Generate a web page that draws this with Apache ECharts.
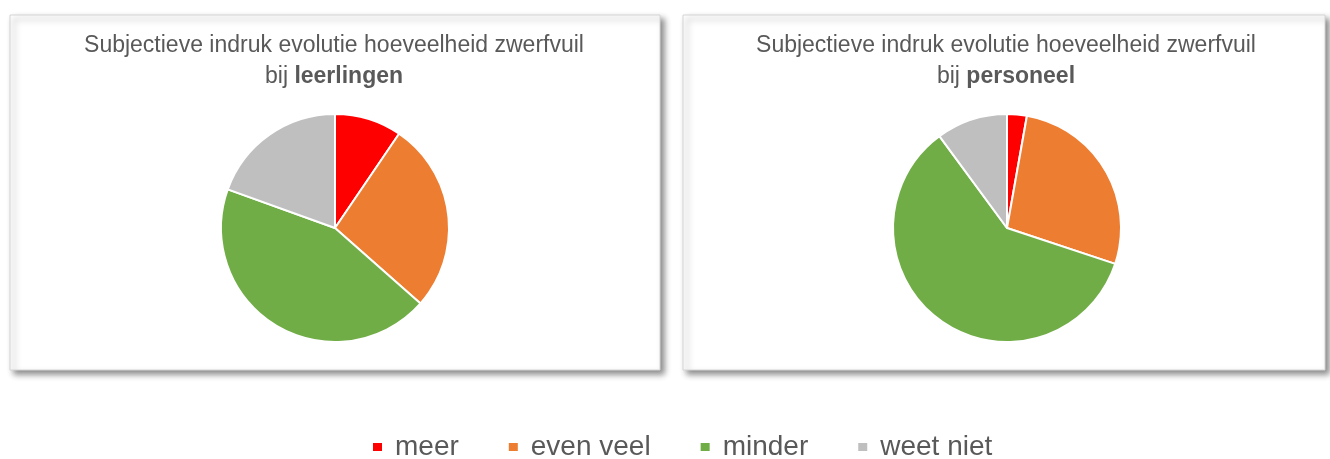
<!DOCTYPE html>
<html lang="nl">
<head>
  <meta charset="UTF-8">
  <title>Subjectieve indruk evolutie hoeveelheid zwerfvuil</title>
  <script src="https://cdn.jsdelivr.net/npm/echarts@6/dist/echarts.min.js"></script>
  <style>
    html, body { margin: 0; padding: 0; background: #fff; }
    #chart { width: 1330px; height: 459px; }
  </style>
</head>
<body>
  <div id="chart"></div>
<script type="text/javascript">
  // data
  let categories = ['meer', 'even veel', 'minder', 'weet niet'];
  let colors = ['#FF0000', '#ED7D31', '#70AD47', '#BFBFBF'];
  let leerlingen = [9.5, 27, 44, 19.5];
  let personeel = [2.8, 27.3, 59.8, 10.1];
  let groups = ['leerlingen', 'personeel'];

  let chart = echarts.init(document.getElementById('chart'));
  let font = '"Liberation Sans", Arial, sans-serif';

  function toData(vals) {
    return vals.map(function (v, i) {
      return { name: categories[i], value: v, itemStyle: { color: colors[i] } };
    });
  }

  // panel boxes + titles
  let panels = [
    { x: 10, y: 15, w: 650, h: 355, cx: 334 },
    { x: 683, y: 15, w: 642, h: 355, cx: 1006 }
  ];
  let graphic = [];
  panels.forEach(function (p, i) {
    graphic.push({
      type: 'rect', z: 0,
      shape: { x: p.x, y: p.y, width: p.w, height: p.h },
      style: {
        fill: '#fff', stroke: '#d4d4d4', lineWidth: 1,
        shadowBlur: 6, shadowOffsetX: 4, shadowOffsetY: 4, shadowColor: 'rgba(0,0,0,0.45)'
      }
    });
    graphic.push({
      type: 'text', z: 5,
      x: p.cx, y: 30,
      style: {
        text: 'Subjectieve indruk evolutie hoeveelheid zwerfvuil\nbij {b|' + groups[i] + '}',
        align: 'center',
        fill: '#595959',
        font: '23px ' + font,
        lineHeight: 31,
        rich: {
          b: { fontWeight: 'bold', fontSize: 23, fontFamily: font, fill: '#595959', lineHeight: 31 }
        }
      }
    });
  });

  let option = {
    animation: false,
    backgroundColor: '#fff',
    graphic: graphic,
    legend: {
      data: categories,
      top: 428,
      left: 366,
      icon: 'rect',
      itemWidth: 11,
      itemHeight: 10,
      itemGap: 48,
      textStyle: { fontSize: 28, color: '#595959', fontFamily: font, padding: [0, 0, 0, 7] }
    },
    series: [
      {
        type: 'pie',
        name: 'leerlingen',
        center: [335, 228],
        radius: 114,
        label: { show: false },
        labelLine: { show: false },
        itemStyle: { borderColor: '#fff', borderWidth: 2 },
        data: toData(leerlingen)
      },
      {
        type: 'pie',
        name: 'personeel',
        center: [1007, 228],
        radius: 114,
        label: { show: false },
        labelLine: { show: false },
        itemStyle: { borderColor: '#fff', borderWidth: 2 },
        data: toData(personeel)
      }
    ]
  };
  chart.setOption(option);
</script>
</body>
</html>
